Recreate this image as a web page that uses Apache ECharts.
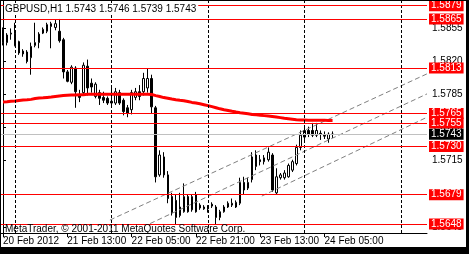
<!DOCTYPE html>
<html><head><meta charset="utf-8">
<script src="https://cdn.jsdelivr.net/npm/echarts@6/dist/echarts.min.js"></script>
<style>html,body{margin:0;padding:0;background:#fff;overflow:hidden}#c{width:469px;height:254px}</style>
</head><body><div id="c"></div>
<script>
const FONT = "'Liberation Sans',Arial,sans-serif";
const FS = 10;
const chartTitle = 'GBPUSD,H1 1.5743 1.5746 1.5739 1.5743';
const copyrightText = 'MetaTrader, \u00A9 2001-2011 MetaQuotes Software Corp.';
const barCount = 106;               // slots on the time axis (incl. empty right margin)
const startHourUTC = Date.UTC(2012, 1, 20, 21);
// [open, close, low, high]
const candles = [
[1.5854,1.5840,1.5837,1.5856],[1.5840,1.5848,1.5837,1.5850],[1.5849,1.5850,1.5843,1.5855],
[1.5850,1.5837,1.5836,1.5861],[1.5841,1.5829,1.5827,1.5842],[1.5831,1.5828,1.5825,1.5833],
[1.5830,1.5820,1.5818,1.5832],[1.5824,1.5836,1.5806,1.5840],[1.5837,1.5840,1.5835,1.5861],
[1.5840,1.5849,1.5834,1.5851],[1.5850,1.5854,1.5849,1.5856],[1.5852,1.5859,1.5850,1.5861],
[1.5857,1.5860,1.5834,1.5862],[1.5856,1.5860,1.5853,1.5864],[1.5852,1.5842,1.5840,1.5865],
[1.5843,1.5809,1.5802,1.5845],[1.5809,1.5799,1.5798,1.5811],[1.5798,1.5814,1.5796,1.5816],
[1.5813,1.5788,1.5771,1.5815],[1.5784,1.5782,1.5777,1.5790],[1.5787,1.5816,1.5784,1.5819],
[1.5815,1.5792,1.5784,1.5822],[1.5797,1.5793,1.5787,1.5802],[1.5783,1.5796,1.5781,1.5798],
[1.5787,1.5781,1.5774,1.5790],[1.5782,1.5779,1.5776,1.5788],[1.5781,1.5776,1.5774,1.5783],
[1.5776,1.5778,1.5772,1.5792],[1.5776,1.5788,1.5774,1.5792],[1.5787,1.5776,1.5774,1.5790],
[1.5779,1.5767,1.5763,1.5781],[1.5771,1.5765,1.5761,1.5774],[1.5769,1.5787,1.5764,1.5790],
[1.5782,1.5788,1.5779,1.5792],[1.5788,1.5783,1.5779,1.5795],[1.5788,1.5802,1.5784,1.5808],
[1.5792,1.5802,1.5787,1.5813],[1.5802,1.5772,1.5765,1.5806],[1.5771,1.5698,1.5692,1.5773],
[1.5700,1.5721,1.5698,1.5726],[1.5719,1.5700,1.5697,1.5724],[1.5700,1.5675,1.5670,1.5704],
[1.5677,1.5660,1.5657,1.5681],[1.5673,1.5655,1.5648,1.5679],[1.5657,1.5666,1.5655,1.5681],
[1.5661,1.5677,1.5660,1.5691],[1.5677,1.5661,1.5660,1.5679],[1.5663,1.5677,1.5661,1.5679],
[1.5679,1.5661,1.5660,1.5682],[1.5668,1.5665,1.5663,1.5670],[1.5664,1.5666,1.5663,1.5668],
[1.5666,1.5664,1.5660,1.5668],[1.5669,1.5667,1.5665,1.5671],[1.5666,1.5655,1.5648,1.5668],
[1.5655,1.5661,1.5652,1.5663],[1.5661,1.5666,1.5660,1.5668],[1.5666,1.5670,1.5665,1.5672],
[1.5668,1.5670,1.5666,1.5675],[1.5666,1.5671,1.5665,1.5673],[1.5670,1.5692,1.5668,1.5697],
[1.5692,1.5684,1.5679,1.5698],[1.5686,1.5692,1.5684,1.5697],[1.5695,1.5719,1.5692,1.5724],
[1.5721,1.5709,1.5705,1.5726],[1.5716,1.5714,1.5710,1.5721],[1.5714,1.5718,1.5711,1.5721],
[1.5716,1.5724,1.5714,1.5729],[1.5721,1.5684,1.5682,1.5723],[1.5681,1.5698,1.5679,1.5707],
[1.5697,1.5700,1.5695,1.5702],[1.5697,1.5702,1.5695,1.5705],[1.5698,1.5710,1.5697,1.5712],
[1.5705,1.5714,1.5703,1.5716],[1.5712,1.5729,1.5710,1.5732],[1.5729,1.5742,1.5726,1.5747],
[1.5740,1.5747,1.5737,1.5750],[1.5747,1.5743,1.5740,1.5751],[1.5747,1.5742,1.5740,1.5755],
[1.5742,1.5747,1.5740,1.5755],[1.5744,1.5743,1.5737,1.5747],[1.5742,1.5741,1.5738,1.5746],
[1.5738,1.5743,1.5734,1.5745],[1.5743,1.5743,1.5739,1.5746]
];
const movingAverage = [
1.57771,1.57774,1.57778,1.57781,1.57787,1.57792,1.57795,1.57799,1.57808,1.57813,
1.57815,1.57820,1.57824,1.57829,1.57834,1.57839,1.57842,1.57845,1.57845,1.57847,
1.57848,1.57852,1.57852,1.57852,1.57852,1.57852,1.57852,1.57852,1.57852,1.57852,
1.57852,1.57852,1.57852,1.57852,1.57852,1.57852,1.57852,1.57850,1.57839,1.57829,
1.57818,1.57810,1.57802,1.57795,1.57789,1.57784,1.57776,1.57767,1.57760,1.57752,
1.57743,1.57733,1.57722,1.57711,1.57699,1.57690,1.57682,1.57673,1.57665,1.57658,
1.57652,1.57646,1.57639,1.57635,1.57631,1.57627,1.57622,1.57617,1.57612,1.57606,
1.57599,1.57594,1.57589,1.57584,1.57580,1.57580,1.57579,1.57578,1.57578,1.57577,
1.57577,1.57576,1.57576
];
const levelLines = [1.5879, 1.5865, 1.5813, 1.5765, 1.5755, 1.5730, 1.5679, 1.5648];
const bidPrice = 1.5743;
const dayLineBars = [3, 27, 51, 75, 99];
const xTickIndex = [0, 16, 32, 48, 64, 80];
const xTickLabels = ['20 Feb 2012', '21 Feb 13:00', '22 Feb 05:00', '22 Feb 21:00', '23 Feb 13:00', '24 Feb 05:00'];
const yTickValues = [1.5645, 1.5680, 1.5715, 1.5750, 1.5785, 1.5820, 1.5855];
const yMin = 1.56385, yMax = 1.5884;
// channel lines: [[barPos, price], [barPos, price]]
const channelUpper = [[26.6, 1.56522], [105.5, 1.58069]];
const channelMiddle = [[36.6, 1.56485], [105.5, 1.57857]];
const channelLower = [[64.4, 1.56776], [105.5, 1.57610]];

const MONTHS = ['Jan','Feb','Mar','Apr','May','Jun','Jul','Aug','Sep','Oct','Nov','Dec'];
const categories = [];
for (let i = 0; i < barCount; i++) {
  const d = new Date(startHourUTC + i * 3600000);
  categories.push(d.getUTCDate() + ' ' + MONTHS[d.getUTCMonth()] + ' ' + String(d.getUTCHours()).padStart(2, '0') + ':00');
}
const showTick = (idx) => xTickIndex.indexOf(idx) >= 0;

const chart = echarts.init(document.getElementById('c'), null, {renderer: 'canvas'});
const labelBox = (bg) => ({
  show: true, position: 'end', distance: 2,
  formatter: (p) => Number(p.value).toFixed(4),
  color: '#fff', backgroundColor: bg, fontFamily: FONT, fontSize: FS,
  lineHeight: 10, padding: [1, 2, 0, 2]
});
const levelData = levelLines.map(v => ({yAxis: v, lineStyle: {color: '#ff0000', width: 1, type: 'solid'}, label: labelBox('#ff0000')}));
levelData.push({yAxis: bidPrice, lineStyle: {color: '#c0c0c0', width: 1, type: 'solid'}, label: labelBox('#000000')});

const channelSeries = (pts) => ({
  type: 'line', xAxisIndex: 1, yAxisIndex: 0, data: pts, showSymbol: false, silent: true,
  lineStyle: {color: '#808080', width: 1, type: [5, 3]}, z: 3
});

chart.setOption({
  animation: false,
  backgroundColor: '#ffffff',
  grid: {left: 1, top: 1, right: 42, bottom: 21, containLabel: false},
  xAxis: [{
    type: 'category', data: categories, boundaryGap: true,
    axisLine: {show: true, lineStyle: {color: '#000', width: 1}},
    axisTick: {show: true, interval: (i) => showTick(i), alignWithLabel: true, length: 4, lineStyle: {color: '#000'}},
    axisLabel: {show: true, interval: (i) => showTick(i), align: 'left', margin: 3, color: '#000',
      fontFamily: FONT, fontSize: FS, hideOverlap: false,
      formatter: (v, idx) => { const k = xTickIndex.indexOf(idx); return k >= 0 ? xTickLabels[k] : ''; }},
    splitLine: {show: false}
  }, {
    type: 'value', min: -0.5, max: barCount - 0.5, show: false
  }],
  yAxis: {
    type: 'value', position: 'right', min: yMin, max: yMax,
    axisLine: {show: true, lineStyle: {color: '#000', width: 1}},
    axisTick: {show: true, length: 3, customValues: yTickValues, lineStyle: {color: '#000'}},
    axisLabel: {show: true, customValues: yTickValues, margin: 5, align: 'left', color: '#000',
      fontFamily: FONT, fontSize: FS, padding: [0, 0, 3, 0], hideOverlap: false,
      formatter: (v) => Number(v).toFixed(4)},
    splitLine: {show: false}
  },
  series: [{
    type: 'candlestick', xAxisIndex: 0, yAxisIndex: 0, data: candles, barWidth: 2,
    itemStyle: {color: '#ffffff', color0: '#000000', borderColor: '#000000', borderColor0: '#000000', borderWidth: 1},
    silent: true, z: 2,
    markLine: {
      silent: true, symbol: 'none', label: {show: false},
      lineStyle: {color: '#000', width: 1, type: [3, 2]},
      data: dayLineBars.map(b => ({xAxis: b}))
    }
  },
  channelSeries(channelUpper), channelSeries(channelMiddle), channelSeries(channelLower),
  {
    type: 'line', xAxisIndex: 0, yAxisIndex: 0, data: movingAverage, showSymbol: false, silent: true,
    lineStyle: {color: '#ff0000', width: 3}, z: 4,
    markLine: {silent: true, symbol: 'none', precision: 5, data: levelData}
  }],
  graphic: [
    {type: 'text', left: 4, top: 3, z: 100,
      style: {text: chartTitle, fill: '#000', font: FS + 'px ' + FONT, backgroundColor: '#fff', padding: [1, 2, 1, 1]}},
    {type: 'text', left: 5, top: 224, z: 100,
      style: {text: copyrightText, fill: '#000', font: FS + 'px ' + FONT}},
    {type: 'rect', left: 0, top: 0, z: 200, shape: {width: 469, height: 1}, style: {fill: '#000'}},
    {type: 'rect', left: 0, top: 0, z: 200, shape: {width: 1, height: 254}, style: {fill: '#000'}},
    {type: 'rect', left: 466, top: 0, z: 200, shape: {width: 3, height: 254}, style: {fill: '#000'}},
    {type: 'rect', left: 0, top: 247, z: 200, shape: {width: 469, height: 7}, style: {fill: '#000'}}
  ]
});
</script>
</body></html>
